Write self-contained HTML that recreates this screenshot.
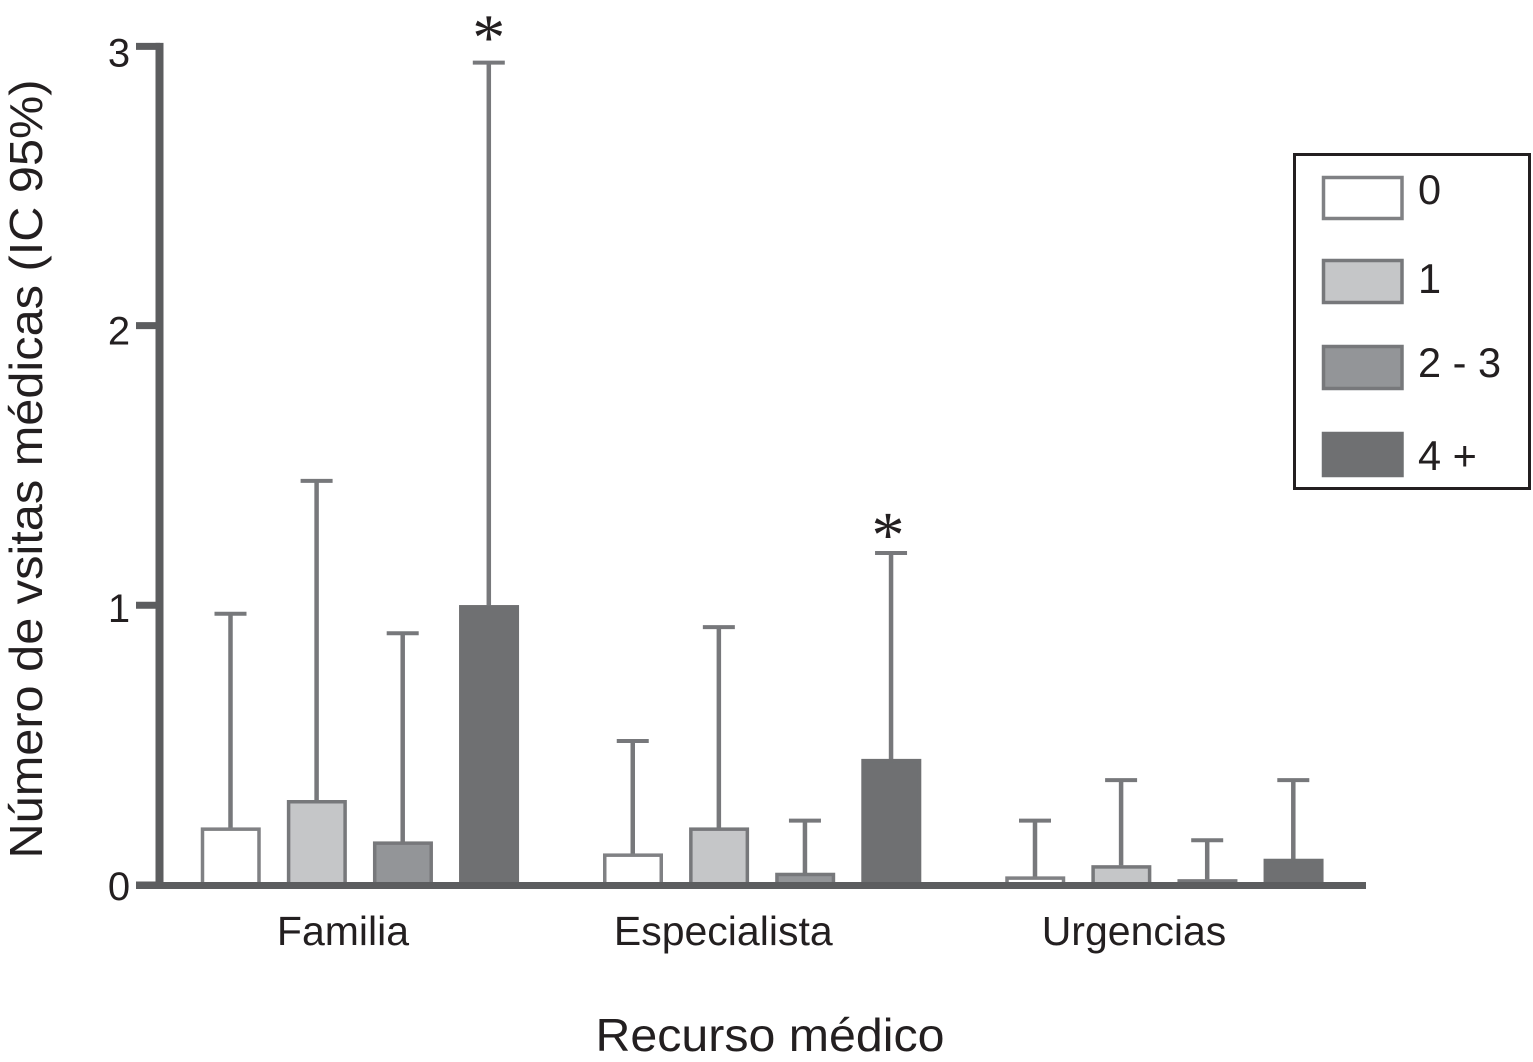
<!DOCTYPE html>
<html lang="es">
<head>
<meta charset="utf-8">
<title>Número de visitas médicas por recurso médico</title>
<style>
html,body{margin:0;padding:0;background:#fff;width:1533px;height:1062px;overflow:hidden}
svg{display:block}
text{font-family:"Liberation Sans",Arial,sans-serif;fill:#231f20}
</style>
</head>
<body>
<svg id="chart" width="1533" height="1062" viewBox="0 0 1533 1062" xmlns="http://www.w3.org/2000/svg">
  <g id="marks"></g>
  <g id="axes"></g>
  <text transform="translate(42,469) rotate(-90)" text-anchor="middle" font-size="46" textLength="779" lengthAdjust="spacingAndGlyphs">Número de vsitas médicas (IC 95%)</text>
  <text x="770" y="1051" text-anchor="middle" font-size="46" textLength="349" lengthAdjust="spacingAndGlyphs">Recurso médico</text>
  <g id="legend">
    <rect x="1294.5" y="154.5" width="235" height="334" fill="#fff" stroke="#231f20" stroke-width="3"/>
  </g>
</svg>
<script>
const categories = ['Familia', 'Especialista', 'Urgencias'];
const seriesNames = ['0', '1', '2 - 3', '4 +'];
const meanFamilia = [0.205, 0.303, 0.155, 1.0];
const meanEspecialista = [0.112, 0.205, 0.043, 0.45];
const meanUrgencias = [0.03, 0.07, 0.02, 0.093];
const upperFamilia = [0.97, 1.445, 0.9, 2.94];
const upperEspecialista = [0.515, 0.922, 0.23, 1.187];
const upperUrgencias = [0.23, 0.375, 0.16, 0.375];
const significant = [[3], [3], []];
const yTicks = [0, 1, 2, 3];

const means = [meanFamilia, meanEspecialista, meanUrgencias];
const uppers = [upperFamilia, upperEspecialista, upperUrgencias];
const fills = ['#ffffff', '#c5c6c8', '#939598', '#6f7072'];
const strokes = ['#808184', '#77787b', '#77787b', '#6f7072'];
const labelOffsets = [142, 120, 128.5];
const starOffsets = [-35, -28];
const starShifts = [0, -3];
const legendLabelY = [204, 293, 377, 470];
const SVGNS = 'http://www.w3.org/2000/svg';
const marks = document.getElementById('marks');
const axes = document.getElementById('axes');
const legend = document.getElementById('legend');

function make(parent, tag, attrs, text) {
  const el = document.createElementNS(SVGNS, tag);
  for (const k in attrs) el.setAttribute(k, attrs[k]);
  if (text !== undefined) el.textContent = text;
  parent.appendChild(el);
  return el;
}
function yScale(v) { return 885 - v * 279.7; }
function tickLabelY(t) { return 900 - t * 277.8; }
function groupStart(g) { return 201 + g * 402.25; }
function barLeft(g, s) { return groupStart(g) + s * 86.1; }

categories.forEach((cat, g) => {
  seriesNames.forEach((name, s) => {
    const left = barLeft(g, s);
    const cx = left + 29.5;
    const top = yScale(means[g][s]);
    const up = yScale(uppers[g][s]);
    const base = yScale(0);

    const stem = make(marks, 'line', {x1: cx, x2: cx, y1: up, y2: top, stroke: '#77787b', 'stroke-width': 4.5});
    
    

    const cap = make(marks, 'line', {x1: cx - 16, x2: cx + 16, y1: up, y2: up, stroke: '#77787b', 'stroke-width': 4});
    
    

    const bar = make(marks, 'rect', {x: left + 1.5, y: top + 1.5, width: 56.5, height: Math.max(base - top - 1.5, 0), fill: fills[s], stroke: strokes[s], 'stroke-width': 3.5});
    
    

    if (significant[g].includes(s)) {
      const star = make(marks, 'text', {x: cx + starShifts[g], y: up + starOffsets[g] + 32, 'text-anchor': 'middle', 'font-size': 66, 'font-family': '"Liberation Serif", serif', style: 'font-family:"Liberation Serif",serif'}, '*');
      
      
    }
  });

  const label = make(axes, 'text', {x: groupStart(g) + labelOffsets[g], y: 945, 'text-anchor': 'middle', 'font-size': 41}, cat);
  
  
});

const yAxis = make(axes, 'line', {x1: 159.5, x2: 159.5, y1: yScale(3) - 3, y2: yScale(0) + 4, stroke: '#5c5d5f', 'stroke-width': 8});



const xAxis = make(axes, 'line', {x1: 136, x2: 1366, y1: 885.5, y2: 885.5, stroke: '#5c5d5f', 'stroke-width': 7});



yTicks.forEach(t => {
  const tick = make(axes, 'line', {x1: 136, x2: 160, y1: yScale(t) + (t === 3 ? 0.5 : 0), y2: yScale(t) + (t === 3 ? 0.5 : 0), stroke: '#5c5d5f', 'stroke-width': 7});
  
  

  const lab = make(axes, 'text', {x: 119, y: tickLabelY(t), 'text-anchor': 'middle', 'font-size': 40}, String(t));
  
  
});

const legendTops = [176, 259, 345, 432];
const legendHeights = [44, 45, 45, 45];
seriesNames.forEach((name, s) => {
  const swatch = make(legend, 'rect', {x: 1323.5, y: legendTops[s] + 1.5, width: 78.5, height: legendHeights[s] - 3, fill: fills[s], stroke: strokes[s], 'stroke-width': 3.5});
  
  

  const lab = make(legend, 'text', {x: 1418, y: legendLabelY[s], 'font-size': 41.5}, name);
  
  
});
</script>
</body>
</html>
